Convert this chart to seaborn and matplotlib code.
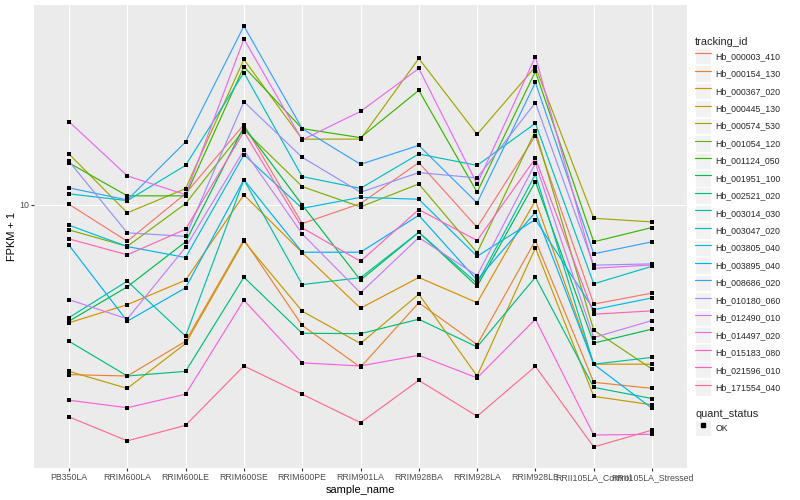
import numpy as np
import pandas as pd
import matplotlib
matplotlib.use("Agg")
import matplotlib.pyplot as plt
import seaborn as sns
from matplotlib.lines import Line2D
from matplotlib.patches import Rectangle
from matplotlib.legend_handler import HandlerLine2D
from matplotlib.ticker import FixedLocator, FixedFormatter, NullLocator

samples = ["PB350LA", "RRIM600LA", "RRIM600LE", "RRIM600SE", "RRIM600PE",
           "RRIM901LA", "RRIM928BA", "RRIM928LA", "RRIM928LE",
           "RRII105LA_Control", "RRII105LA_Stressed"]

tracking_ids = ["Hb_000003_410", "Hb_000154_130", "Hb_000367_020", "Hb_000445_130",
                "Hb_000574_530", "Hb_001054_120", "Hb_001124_050", "Hb_001951_100",
                "Hb_002521_020", "Hb_003014_030", "Hb_003047_020", "Hb_003805_040",
                "Hb_003895_040", "Hb_008686_020", "Hb_010180_060", "Hb_012490_010",
                "Hb_014497_020", "Hb_015183_080", "Hb_021596_010", "Hb_171554_040"]

# FPKM + 1 values, one list per gene, in sample order
Hb_000003_410 = [10.02, 7.74, 10.80, 17.48, 8.76, 10.07, 13.41, 8.53, 16.18, 4.99, 5.39]
Hb_000154_130 = [3.05, 3.02, 3.85, 7.83, 4.30, 3.21, 5.04, 3.76, 7.78, 2.89, 2.77]
Hb_000367_020 = [4.38, 4.97, 5.90, 10.70, 7.15, 4.85, 6.01, 5.04, 10.28, 3.28, 3.28]
Hb_000445_130 = [3.12, 2.77, 3.79, 7.74, 4.75, 3.79, 5.35, 3.02, 7.39, 2.62, 2.47]
Hb_000574_530 = [14.24, 9.44, 11.18, 27.56, 15.79, 15.80, 27.75, 16.33, 26.19, 9.09, 8.86]
Hb_001054_120 = [8.38, 7.47, 10.07, 16.88, 11.34, 9.84, 11.55, 7.15, 16.72, 4.16, 3.17]
Hb_001124_050 = [13.38, 10.63, 10.63, 26.19, 17.00, 15.96, 22.21, 10.90, 25.34, 7.71, 8.52]
Hb_001951_100 = [4.43, 5.63, 7.71, 17.23, 9.98, 5.90, 8.24, 5.65, 11.74, 3.80, 4.19]
Hb_002521_020 = [3.85, 3.02, 3.12, 6.02, 4.07, 4.06, 4.49, 3.70, 6.02, 2.79, 2.58]
Hb_003014_030 = [4.54, 5.86, 3.99, 11.90, 5.72, 6.00, 8.24, 5.77, 12.35, 3.28, 3.44]
Hb_003047_020 = [10.78, 10.28, 13.15, 25.12, 12.16, 11.20, 14.24, 13.15, 17.64, 5.75, 6.50]
Hb_003805_040 = [8.66, 7.46, 6.91, 14.17, 9.74, 10.52, 10.38, 6.97, 9.01, 4.80, 5.21]
Hb_003895_040 = [7.53, 4.43, 5.59, 11.90, 7.17, 7.17, 9.28, 5.90, 9.48, 3.28, 2.41]
Hb_008686_020 = [11.24, 10.33, 15.49, 34.80, 17.00, 13.25, 15.12, 10.12, 23.47, 7.09, 7.71]
Hb_010180_060 = [13.53, 8.21, 8.01, 20.51, 13.91, 10.90, 12.50, 12.05, 20.38, 6.55, 6.61]
Hb_012490_010 = [5.15, 4.50, 7.42, 14.61, 8.15, 5.40, 7.94, 6.09, 13.34, 3.95, 4.45]
Hb_014497_020 = [17.85, 12.22, 10.72, 31.78, 15.71, 19.17, 25.88, 11.55, 28.08, 6.41, 6.56]
Hb_015183_080 = [2.55, 2.42, 2.66, 5.13, 3.31, 3.24, 3.49, 2.98, 4.49, 2.00, 2.01]
Hb_021596_010 = [7.87, 7.04, 8.42, 16.64, 8.50, 6.73, 9.66, 7.78, 13.81, 4.65, 4.76]
Hb_171554_040 = [2.27, 1.92, 2.14, 3.24, 2.66, 2.18, 2.93, 2.28, 3.23, 1.84, 2.07]

series_values = [Hb_000003_410, Hb_000154_130, Hb_000367_020, Hb_000445_130,
                 Hb_000574_530, Hb_001054_120, Hb_001124_050, Hb_001951_100,
                 Hb_002521_020, Hb_003014_030, Hb_003047_020, Hb_003805_040,
                 Hb_003895_040, Hb_008686_020, Hb_010180_060, Hb_012490_010,
                 Hb_014497_020, Hb_015183_080, Hb_021596_010, Hb_171554_040]

colors = ["#F8766D", "#EA8331", "#D89000", "#C09B00", "#A3A500", "#7CAE00",
          "#39B600", "#00BB4E", "#00BF7D", "#00C1A3", "#00BFC4", "#00BAE0",
          "#00B0F6", "#35A2FF", "#9590FF", "#C77CFF", "#E76BF3", "#FA62DB",
          "#FF62BC", "#FF6C91"]

quant_status = ["OK"]

rows = []
for tid, vals in zip(tracking_ids, series_values):
    for s, v in zip(samples, vals):
        rows.append({"tracking_id": tid, "sample_name": s, "fpkm": v, "quant_status": "OK"})
df = pd.DataFrame(rows)

sns.set_theme(style="darkgrid")
plt.rcParams["font.family"] = ["Liberation Sans", "DejaVu Sans"]

fig = plt.figure(figsize=(8, 5), dpi=100)
fig.patch.set_facecolor("white")
ax = fig.add_axes([34 / 800, 32 / 500, 653 / 800, 463 / 500])
ax.set_facecolor("#EBEBEB")

sns.lineplot(data=df, x="sample_name", y="fpkm", hue="tracking_id",
             hue_order=tracking_ids, palette=colors, sort=False,
             estimator=None, errorbar=None, linewidth=0.85, legend=False, ax=ax)
sns.scatterplot(data=df, x="sample_name", y="fpkm", color="black", marker="s",
                s=11, linewidth=0, legend=False, ax=ax, zorder=5)

ax.set_yscale("log")
ax.set_xlim(-0.6, len(samples) - 1 + 0.6)
ax.margins(y=0.05)
ax.yaxis.set_major_locator(FixedLocator([10]))
ax.yaxis.set_major_formatter(FixedFormatter(["10"]))
ax.yaxis.set_minor_locator(NullLocator())
ax.grid(True, which="major", color="white", linewidth=0.8)
ax.grid(False, which="minor")
for sp in ax.spines.values():
    sp.set_visible(False)
ax.tick_params(axis="both", which="major", length=2.0, width=0.8, color="#333333",
               labelcolor="#4D4D4D", labelsize=6.3, pad=1.6, bottom=True, left=True)
ax.set_xlabel("sample_name", fontsize=7.9, color="black", labelpad=2)
ax.set_ylabel("FPKM + 1", fontsize=7.9, color="black", labelpad=1.5)


class KeyHandler(HandlerLine2D):
    def create_artists(self, legend, orig_handle, xdescent, ydescent, width, height,
                       fontsize, trans):
        bg = Rectangle((-xdescent, -ydescent), width, height, facecolor="#F2F2F2",
                       edgecolor="white", linewidth=0.6, transform=trans)
        arts = super().create_artists(legend, orig_handle, xdescent, ydescent,
                                      width, height, fontsize, trans)
        return [bg] + arts


leg_kw = dict(loc="upper left", frameon=False, fontsize=6.3, title_fontsize=7.9,
              handlelength=1.85, handleheight=2.52, labelspacing=0.11,
              handletextpad=0.45, borderpad=0, borderaxespad=0, alignment="left",
              handler_map={Line2D: KeyHandler()})

handles = [Line2D([], [], color=c, lw=0.85) for c in colors]
leg1 = fig.legend(handles, tracking_ids, title="tracking_id",
                  bbox_to_anchor=(695 / 800, 1 - 37 / 500), **leg_kw)

qhandles = [Line2D([], [], color="black", marker="s", markersize=2.6, linestyle="none")]
leg2 = fig.legend(qhandles, quant_status, title="quant_status",
                  bbox_to_anchor=(695 / 800, 1 - 409 / 500), **leg_kw)

fig.savefig("out.png", dpi=100, facecolor="white")
